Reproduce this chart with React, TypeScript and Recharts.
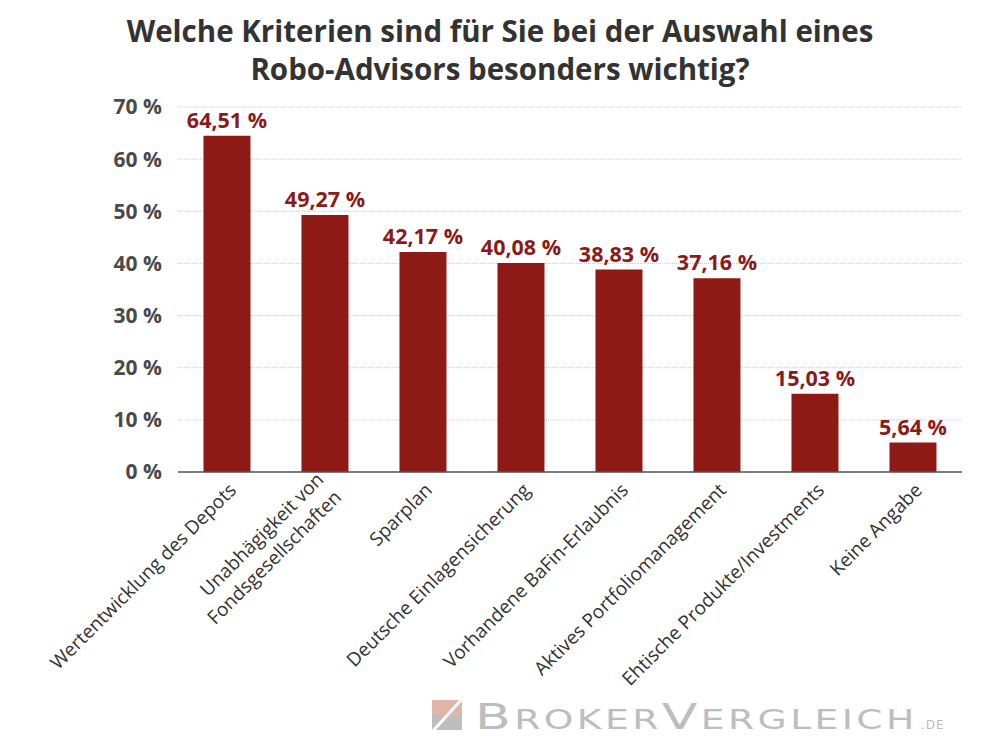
import React from 'react';
import { BarChart, Bar, XAxis, YAxis, CartesianGrid, LabelList } from 'recharts';

const categories = [
  'Wertentwicklung des Depots',
  'Unabhägigkeit von|Fondsgesellschaften',
  'Sparplan',
  'Deutsche Einlagensicherung',
  'Vorhandene BaFin-Erlaubnis',
  'Aktives Portfoliomanagement',
  'Ehtische Produkte/Investments',
  'Keine Angabe',
];
const shares = [64.51, 49.27, 42.17, 40.08, 38.83, 37.16, 15.03, 5.64];
const yTicks = [0, 10, 20, 30, 40, 50, 60, 70];

const data = categories.map((name, i) => ({ name, value: shares[i] }));

const FONT = '"Open Sans", "Noto Sans", sans-serif';
const RED = '#8e1a16';

const pct = (v: number) => `${v.toFixed(2).replace('.', ',')} %`;

const CategoryTick = (props: any) => {
  const { x, y, payload } = props;
  const lines = String(payload.value).split('|');
  return (
    <g transform={`translate(${x + 4},${y + 5}) rotate(-45)`}>
      <text textAnchor="end" fontFamily={FONT} fontSize={19} fill="#333">
        {lines.map((l, i) => (
          <tspan key={i} x={0} dy={i === 0 ? (lines.length > 1 ? -6 : 9) : 25}>{l}</tspan>
        ))}
      </text>
    </g>
  );
};

const ValueLabel = (props: any) => {
  const { x, y, width, value } = props;
  return (
    <text
      x={x + width / 2}
      y={y - 8}
      textAnchor="middle"
      fontFamily={FONT}
      fontSize={21.5}
      fontWeight={700}
      fill="#8b1a1a"
    >
      {pct(value)}
    </text>
  );
};

// watermark bottom right
const Logo = () => (
  <svg width={560} height={56} style={{ position: 'absolute', left: 428, top: 694 }}>
    <rect x={4} y={6} width={30} height={15} fill="#dfb5a8" />
    <rect x={4} y={21} width={30} height={15} fill="#bdbdbd" />
    <line x1={5} y1={37} x2={34} y2={5} stroke="#fff" strokeWidth={3} />
    <text transform="translate(47,35) scale(1.45,1)" fontFamily='"DejaVu Sans", sans-serif' fill="#bdbdbd"
      textLength={303} lengthAdjust="spacing">
      <tspan fontSize={36}>B</tspan>
      <tspan fontSize={26}>ROKER</tspan>
      <tspan fontSize={36}>V</tspan>
      <tspan fontSize={26}>ERGLEICH</tspan>
    </text>
    <text x={493} y={35} fontFamily='"DejaVu Sans", sans-serif' fill="#bdbdbd" fontSize={12} letterSpacing={1}>
      .DE
    </text>
  </svg>
);

export default function App() {
  return (
    <div style={{ position: 'fixed', left: 0, top: 0, width: 1000, height: 752, background: '#fff' }}>
      <div
        style={{
          position: 'absolute', left: 0, top: 12, width: 1000, textAlign: 'center',
          fontFamily: FONT, fontWeight: 700, fontSize: 29.5, lineHeight: '38px', color: '#333',
        }}
      >
        Welche Kriterien sind für Sie bei der Auswahl eines<br />Robo-Advisors besonders wichtig?
      </div>
      <div style={{ position: 'absolute', left: 0, top: 0 }}>
        <BarChart
          width={1000}
          height={752}
          data={data}
          margin={{ top: 107, right: 38, left: 113, bottom: 80 }}
          barCategoryGap="26%"
        >
          <CartesianGrid vertical={false} stroke="#c8c8c8" strokeDasharray="1 1" />
          <XAxis
            dataKey="name"
            interval={0}
            height={200}
            tickLine={false}
            axisLine={{ stroke: '#555', strokeWidth: 1.5 }}
            tick={<CategoryTick />}
          />
          <YAxis
            domain={[0, 70]}
            ticks={yTicks}
            width={65}
            tickLine={false}
            axisLine={false}
            tickMargin={10}
            tickFormatter={(v: number) => `${v} %`}
            tick={{ fontFamily: FONT, fontSize: 21, fontWeight: 700, fill: '#4a4a4a' }}
          />
          <Bar dataKey="value" fill={RED} isAnimationActive={false}>
            <LabelList dataKey="value" content={<ValueLabel />} />
          </Bar>
        </BarChart>
      </div>
      <Logo />
    </div>
  );
}
